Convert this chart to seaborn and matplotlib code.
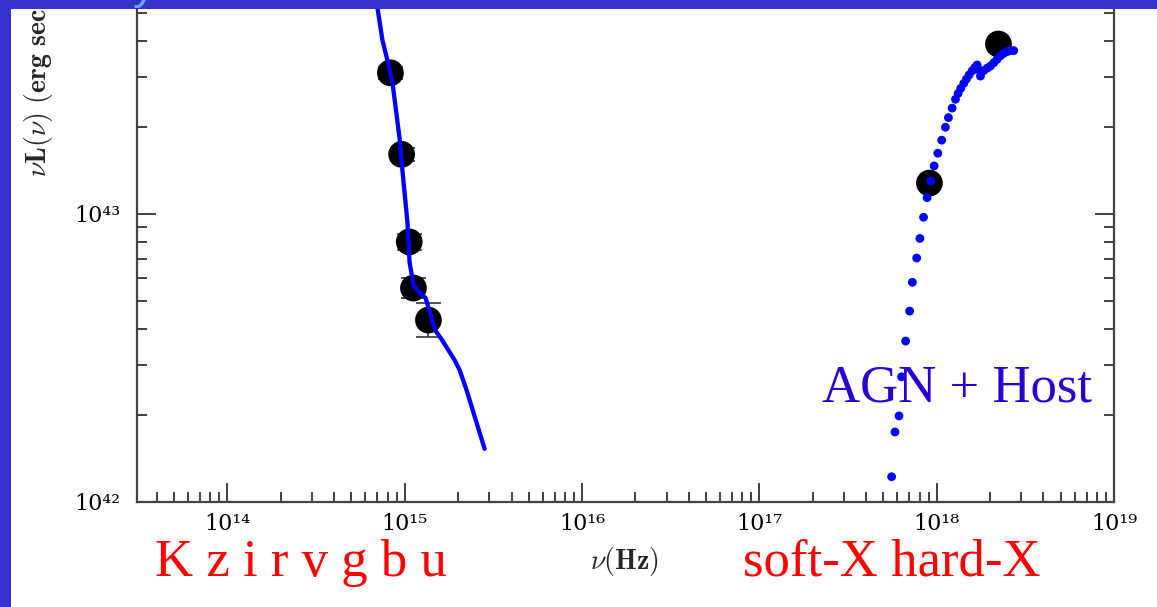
import matplotlib
matplotlib.use("Agg")
import matplotlib.pyplot as plt
import seaborn as sns
from matplotlib.patches import Rectangle
from matplotlib.ticker import FixedLocator, FixedFormatter, LogLocator, NullFormatter

# ---------------- data ----------------
# observed photometry (optical/UV), erg/s
opt_nu = [8.3e14, 9.6e14, 1.06e15, 1.12e15, 1.36e15]
opt_L = [3.09e43, 1.61e43, 8.0e42, 5.53e42, 4.28e42]
opt_err_lo = [0.15e43, 0.08e43, 0.50e42, 0.42e42, 0.55e42]
opt_err_hi = [0.15e43, 0.08e43, 0.53e42, 0.46e42, 0.62e42]
# observed X-ray points
xray_nu = [9.1e17, 2.23e18]
xray_L = [1.28e43, 3.89e43]

# AGN + Host model, optical/UV part (line)
model_opt_nu = [6.84e14, 7.48e14, 8.20e14, 8.53e14, 9.34e14, 9.71e14, 1.036e15,
                1.064e15, 1.12e15, 1.20e15, 1.31e15, 1.49e15, 1.61e15, 1.91e15,
                2.04e15, 2.23e15, 2.82e15]
model_opt_L = [5.76e43, 4.02e43, 3.19e43, 2.85e43, 1.84e43, 1.41e43, 9.31e42,
               6.81e42, 5.67e42, 5.36e42, 5.11e42, 3.93e42, 3.68e42, 3.11e42,
               2.87e42, 2.45e42, 1.53e42]

# AGN + Host model, X-ray part (dots)
model_x_nu = [5.57e17, 5.82e17, 6.13e17, 6.34e17, 6.68e17, 7.04e17, 7.29e17, 7.71e17,
              8.04e17, 8.43e17, 8.83e17, 9.25e17, 9.67e17, 1.014e18, 1.067e18, 1.12e18,
              1.165e18, 1.222e18, 1.276e18, 1.321e18, 1.367e18, 1.422e18, 1.472e18,
              1.524e18, 1.585e18, 1.64e18, 1.69e18, 1.738e18, 1.766e18, 1.845e18,
              1.928e18, 2.01e18, 2.10e18, 2.19e18, 2.29e18, 2.39e18, 2.50e18, 2.61e18,
              2.72e18]
model_x_L = [1.224e42, 1.75e42, 1.99e42, 2.72e42, 3.62e42, 4.60e42, 5.79e42, 7.03e42,
             8.22e42, 9.74e42, 1.139e43, 1.302e43, 1.468e43, 1.625e43, 1.803e43, 2.0e43,
             2.16e43, 2.33e43, 2.50e43, 2.62e43, 2.73e43, 2.84e43, 2.94e43,
             3.04e43, 3.14e43, 3.22e43, 3.29e43, 3.16e43, 3.01e43, 3.145e43,
             3.21e43, 3.26e43, 3.35e43, 3.44e43, 3.54e43, 3.61e43, 3.66e43, 3.69e43,
             3.69e43]

x_major = [1e14, 1e15, 1e16, 1e17, 1e18, 1e19]
x_major_labels = ["10¹⁴", "10¹⁵", "10¹⁶", "10¹⁷", "10¹⁸", "10¹⁹"]
y_major = [1e42, 1e43]
y_major_labels = ["10⁴²", "10⁴³"]

band_labels = "K z i r v g b u"
xray_labels = "soft-X hard-X"
model_label = "AGN + Host"
y_title = r"$\nu\mathbf{L}(\nu)\ \mathbf{(erg\ sec^{-1}\ Hz^{-1})}$"
x_title = r"$\nu\mathbf{(Hz)}$"

# ---------------- figure ----------------
sns.set_style("white")
plt.rcParams["mathtext.fontset"] = "cm"
plt.rcParams["font.family"] = ["DejaVu Serif"]

W, H = 1157, 607
fig = plt.figure(figsize=(W / 100, H / 100), dpi=100)
fig.patch.set_facecolor("white")

ax = fig.add_axes([137 / W, 1 - 502 / H, (1114 - 137) / W, 502 / H])
ax.set_xscale("log")
ax.set_yscale("log")

ax.errorbar(opt_nu, opt_L, yerr=[opt_err_lo, opt_err_hi], fmt="none",
            ecolor="#333333", elinewidth=1.2, capsize=9, capthick=1.2, zorder=2)
sns.scatterplot(x=opt_nu + xray_nu, y=opt_L + xray_L, color="black", s=370,
                edgecolor="none", ax=ax, zorder=3)
sns.lineplot(x=model_opt_nu, y=model_opt_L, sort=False, color="#0000ff",
             linewidth=3.1, ax=ax, zorder=4)
sns.scatterplot(x=model_x_nu, y=model_x_L, color="#0000ff", s=40,
                edgecolor="none", ax=ax, zorder=5)

ax.set_xlim(3.09e13, 1e19)
ax.set_ylim(1e42, 5.53e43)
ax.set_xlabel("")
ax.set_ylabel("")

ax.xaxis.set_major_locator(FixedLocator(x_major))
ax.xaxis.set_major_formatter(FixedFormatter(x_major_labels))
ax.xaxis.set_minor_locator(LogLocator(base=10, subs=[2, 3, 4, 5, 6, 7, 8, 9], numticks=20))
ax.xaxis.set_minor_formatter(NullFormatter())
ax.yaxis.set_major_locator(FixedLocator(y_major))
ax.yaxis.set_major_formatter(FixedFormatter(y_major_labels))
ax.yaxis.set_minor_locator(LogLocator(base=10, subs=[2, 3, 4, 5, 6, 7, 8, 9], numticks=20))
ax.yaxis.set_minor_formatter(NullFormatter())

ax.tick_params(which="both", direction="in", top=False, right=True, bottom=True, left=True,
               color="#333333", width=1.3, labelsize=16, labelcolor="black")
ax.tick_params(which="major", length=14)
ax.tick_params(which="minor", length=7.5)
ax.tick_params(axis="x", which="major", pad=8)
ax.tick_params(axis="y", which="major", pad=12)
for lab in ax.get_xticklabels() + ax.get_yticklabels():
    lab.set_family("DejaVu Serif")

for side in ["left", "bottom", "right"]:
    ax.spines[side].set_color("#444444")
    ax.spines[side].set_linewidth(1.6)
ax.spines["top"].set_visible(False)

# axis labels
fig.text(38 / W, 1 - 177 / H, y_title, rotation=90,
         ha="center", va="bottom", fontsize=20)
fig.text(624 / W, 1 - 569 / H, x_title, ha="center", va="baseline",
         fontsize=20)

# annotations
fig.text(301 / W, 1 - 576 / H, band_labels, ha="center", va="baseline",
         fontsize=38, family="Liberation Serif", color="#ff0000")
fig.text(892 / W, 1 - 576 / H, xray_labels, ha="center", va="baseline",
         fontsize=38, family="Liberation Serif", color="#ff0000")
fig.text(957 / W, 1 - 401 / H, model_label, ha="center", va="baseline",
         fontsize=38, family="Liberation Serif", color="#2a00d0")

# slide frame
fig.add_artist(Rectangle((0, 1 - 8.5 / H), 1, 8.5 / H, transform=fig.transFigure,
                         facecolor="#3333cc", edgecolor="none", zorder=10))
fig.add_artist(Rectangle((0, 0), 11 / W, 1, transform=fig.transFigure,
                         facecolor="#3333cc", edgecolor="none", zorder=10))
fig.text(144 / W, 1 + 1 / H, "y", ha="center", va="baseline", fontsize=32,
         family="Liberation Sans", color="#66aaff", zorder=11)

fig.savefig("out.png", dpi=100, facecolor="white")
